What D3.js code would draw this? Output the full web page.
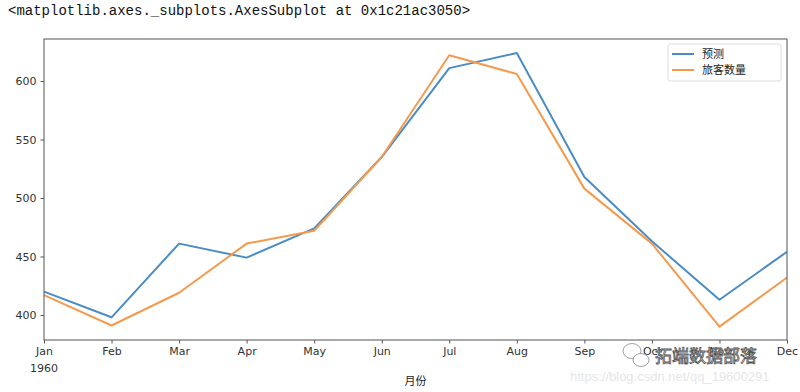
<!DOCTYPE html>
<html>
<head>
<meta charset="utf-8">
<script src="https://cdn.jsdelivr.net/npm/d3@7"></script>
<style>
body { margin: 0; background: #fff; }
</style>
</head>
<body>
<div id="chart"></div>
<script>
let months = ["Jan", "Feb", "Mar", "Apr", "May", "Jun", "Jul", "Aug", "Sep", "Oct", "Nov", "Dec"];
let predicted = [420, 398, 461, 449, 474, 535, 611, 624, 518, 463, 413, 454];
let passengers = [417, 391, 419, 461, 472, 535, 622, 606, 508, 461, 390, 432];
let yTicks = [400, 450, 500, 550, 600];
let seriesNames = ["预测", "旅客数量"];
let seriesColors = ["#4a8cc4", "#f59a4d"];

let dim = {'width': 800, 'height': 392};
let box = {left: 44, right: 787, top: 39, bottom: 340};

let svg = d3.select('#chart').append('svg')
    .attr('width', dim.width)
    .attr('height', dim.height);

// notebook output line
svg.append('text')
    .attr('x', 8).attr('y', 15)
    .attr('font-family', 'Liberation Mono, DejaVu Sans Mono, monospace')
    .attr('font-size', 14)
    .attr('fill', '#111')
    .text('<matplotlib.axes._subplots.AxesSubplot at 0x1c21ac3050>');

let scaleX = d3.scalePoint()
    .domain(months)
    .range([box.left, box.right]);

let scaleY = d3.scaleLinear()
    .domain([378.6, 635.9])
    .range([box.bottom, box.top]);

let font = 'DejaVu Sans, sans-serif';

// lines
let line = d3.line()
    .x((d, i) => scaleX(months[i]))
    .y(d => scaleY(d));

[predicted, passengers].forEach((s, k) => {
    svg.append('path')
        .datum(s)
        .attr('d', line)
        .attr('fill', 'none')
        .attr('stroke', seriesColors[k])
        .attr('stroke-width', 2)
        .attr('stroke-linejoin', 'round');
});

// frame
svg.append('rect')
    .attr('x', box.left).attr('y', box.top)
    .attr('width', box.right - box.left)
    .attr('height', box.bottom - box.top)
    .attr('fill', 'none')
    .attr('stroke', '#555')
    .attr('stroke-width', 1);

let axisY = svg.append('g')
    .attr('transform', `translate(${box.left},0)`)
    .call(d3.axisLeft(scaleY).tickValues(yTicks).tickSize(3.5).tickPadding(4));
axisY.select('.domain').remove();
axisY.selectAll('text').attr('font-family', font).attr('font-size', 11).attr('fill', '#333');
axisY.selectAll('line').attr('stroke', '#555');

let axisX = svg.append('g')
    .attr('transform', `translate(0,${box.bottom})`)
    .call(d3.axisBottom(scaleX).tickSize(3.5).tickPadding(4));
axisX.select('.domain').remove();
axisX.selectAll('text').attr('font-family', font).attr('font-size', 11).attr('fill', '#333');
axisX.selectAll('line').attr('stroke', '#555');

svg.append('text')
    .attr('x', box.left).attr('y', 372)
    .attr('text-anchor', 'middle')
    .attr('font-family', font).attr('font-size', 11).attr('fill', '#333')
    .text('1960');

svg.append('text')
    .attr('x', (box.left + box.right) / 2).attr('y', 385)
    .attr('text-anchor', 'middle')
    .attr('font-family', 'Noto Sans CJK SC, sans-serif').attr('font-size', 11).attr('fill', '#222')
    .text('月份');

// legend
let legend = svg.append('g').attr('transform', 'translate(668,44)');
legend.append('rect')
    .attr('width', 113).attr('height', 37)
    .attr('rx', 2)
    .attr('fill', '#fff')
    .attr('stroke', '#ddd');
seriesNames.forEach((n, k) => {
    legend.append('line')
        .attr('x1', 4).attr('x2', 26)
        .attr('y1', 10 + k * 16).attr('y2', 10 + k * 16)
        .attr('stroke', seriesColors[k]).attr('stroke-width', 2);
    legend.append('text')
        .attr('x', 34).attr('y', 10 + k * 16)
        .attr('dy', '0.35em')
        .attr('font-family', 'Noto Sans CJK SC, sans-serif').attr('font-size', 11).attr('fill', '#222')
        .text(n);
});

// watermark
let wm = svg.append('g').attr('fill', 'none').attr('stroke', '#888').attr('stroke-width', 0.8);
wm.append('ellipse').attr('cx', 632).attr('cy', 351).attr('rx', 9).attr('ry', 7.5).attr('fill', '#fff');
wm.append('ellipse').attr('cx', 641).attr('cy', 360).attr('rx', 8).attr('ry', 6.5).attr('fill', '#fff');
svg.append('text')
    .attr('x', 655).attr('y', 362)
    .attr('font-family', 'Noto Sans CJK SC, sans-serif').attr('font-size', 17)
    .attr('fill', '#fff').attr('stroke', '#555').attr('stroke-width', 0.8)
    .text('拓端数据部落');
svg.append('text')
    .attr('x', 570).attr('y', 381)
    .attr('font-family', 'Liberation Sans, sans-serif').attr('font-size', 13)
    .attr('fill', '#e6e6e6')
    .text('https://blog.csdn.net/qq_19600291');
</script>
</body>
</html>
